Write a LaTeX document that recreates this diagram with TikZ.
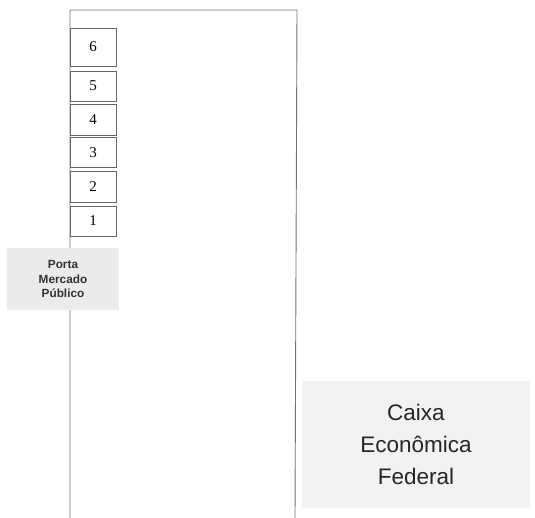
\documentclass[tikz,border=0pt]{standalone}
\usepackage{fontspec}
\setmainfont{Liberation Serif}
\setsansfont{Liberation Sans}
\begin{document}
\begin{tikzpicture}[x=1pt,y=-1pt,
  numbox/.style={draw=black!60, line width=0.8pt, fill=white, minimum width=46pt, inner sep=0pt, font=\fontsize{15}{17}\selectfont},
  graybox/.style={fill=black!8, inner sep=0pt, align=center},
  wall/.style={draw=black!55, line width=0.9pt}]
\useasboundingbox (0,0) rectangle (535,518);
\fill[white] (0,0) rectangle (535,518);
% frame
\draw[wall] (70,518) -- (70,10) -- (297,10) -- (295,518);
% numbered boxes
\node[numbox, minimum height=38pt] (b6) at (93,47) {6};
\node[numbox, minimum height=30pt] (b5) at (93,86) {5};
\node[numbox, minimum height=31pt] (b4) at (93,119.5) {4};
\node[numbox, minimum height=30pt] (b3) at (93,152.5) {3};
\node[numbox, minimum height=31pt] (b2) at (93,186.5) {2};
\node[numbox, minimum height=30pt] (b1) at (93,221) {1};
% Porta
\node[graybox, minimum width=112pt, minimum height=62pt, font=\sffamily\bfseries\fontsize{11.8}{14.3}\selectfont, text=black!80] (porta) at (63,279) {Porta\\Mercado\\Público};
% Caixa
\node[graybox, fill=black!5, minimum width=228pt, minimum height=127pt, font=\sffamily\fontsize{22.5}{32}\selectfont, text=black!85] (caixa) at (416,444.5) {Caixa\\Econômica\\Federal};
\end{tikzpicture}
\end{document}
